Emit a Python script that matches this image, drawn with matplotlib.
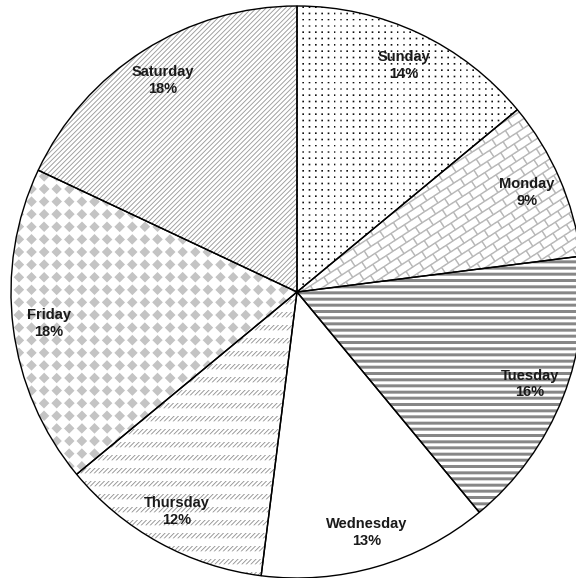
import numpy as np
import matplotlib
matplotlib.use("Agg")
import matplotlib.pyplot as plt

# Share of visits per weekday (percent)
days = ["Sunday", "Monday", "Tuesday", "Wednesday", "Thursday", "Friday", "Saturday"]
shares = [14, 9, 16, 13, 12, 18, 18]

W, H, DPI = 576, 578, 100
CX, CY, RAD = 297.0, 292.0, 286.0   # pie centre / radius in pixels (y down)

# supersampled pixel grid used to rasterise the fill patterns
SS = 3
xs = (np.arange(W * SS) + 0.5) / SS
ys = (np.arange(H * SS) + 0.5) / SS
X, Y = np.meshgrid(xs, ys)


def downsample(mask):
    m = mask.astype(float).reshape(H, SS, W, SS)
    return m.mean(axis=(1, 3))


def dots():
    p = 6.3
    return ((X % p) < 1.6) & ((Y % p) < 1.6)


def bricks():
    a = np.deg2rad(33)
    u = X * np.cos(a) - Y * np.sin(a)
    v = X * np.sin(a) + Y * np.cos(a)
    h, L, lw = 8.0, 16.0, 1.5
    row = np.floor(v / h)
    bed = (v % h) < lw
    joint = ((u + (row % 2) * L / 2) % L) < lw
    return bed | joint


def hstripes():
    return (Y % 6.2) < 3.0


def blank():
    return np.zeros_like(X, dtype=bool)


def dashed_slashes():
    band = (Y % 13.0) < 5.5
    diag = ((X + Y) % 4.5) < 1.3
    return band & diag


def diamonds():
    s = 12.6
    p = (X + Y) / s
    q = (X - Y) / s
    fp = p % 1 - 0.5
    fq = q % 1 - 0.5
    cell = np.floor(p) + np.floor(q)
    inside = (np.abs(fp) < 0.42) & (np.abs(fq) < 0.42)
    return (cell % 2 == 0) & inside


def up_diagonal():
    return ((X + Y) % 4.8) < 1.3


fills = [
    (dots, "#111111"),
    (bricks, "#b8b8b8"),
    (hstripes, "#878787"),
    (blank, "#ffffff"),
    (dashed_slashes, "#999999"),
    (diamonds, "#c4c4c4"),
    (up_diagonal, "#a0a0a0"),
]

fig = plt.figure(figsize=(W / DPI, H / DPI), dpi=DPI)
fig.patch.set_facecolor("white")
ax = fig.add_axes([0, 0, 1, 1])

wedges, _ = ax.pie(
    shares,
    startangle=90,
    counterclock=False,
    radius=1,
    center=(0, 0),
    wedgeprops=dict(facecolor="none", edgecolor="black", linewidth=1.0, zorder=2),
)

left, right = (0 - CX) / RAD, (W - CX) / RAD
bottom, top = (CY - H) / RAD, CY / RAD

for w, (fn, col) in zip(wedges, fills):
    cov = downsample(fn())
    if cov.max() == 0:
        continue
    rgba = np.zeros((H, W, 4))
    rgba[..., :3] = matplotlib.colors.to_rgb(col)
    rgba[..., 3] = cov
    im = ax.imshow(rgba, extent=(left, right, bottom, top), origin="upper",
                   interpolation="nearest", aspect="auto", zorder=1)
    im.set_clip_path(w)

label_r = 0.875
for w, day, val in zip(wedges, days, shares):
    th = np.deg2rad((w.theta1 + w.theta2) / 2)
    ax.text(label_r * np.cos(th), label_r * np.sin(th), f"{day}\n{val}%",
            ha="center", va="center", fontsize=10.5, fontweight="bold",
            family="Liberation Sans", color="#1a1a1a", linespacing=1.25, zorder=4)

ax.set_aspect("auto")
ax.set_xlim(left, right)
ax.set_ylim(bottom, top)
ax.axis("off")

fig.savefig("out.png", dpi=DPI, facecolor="white")
